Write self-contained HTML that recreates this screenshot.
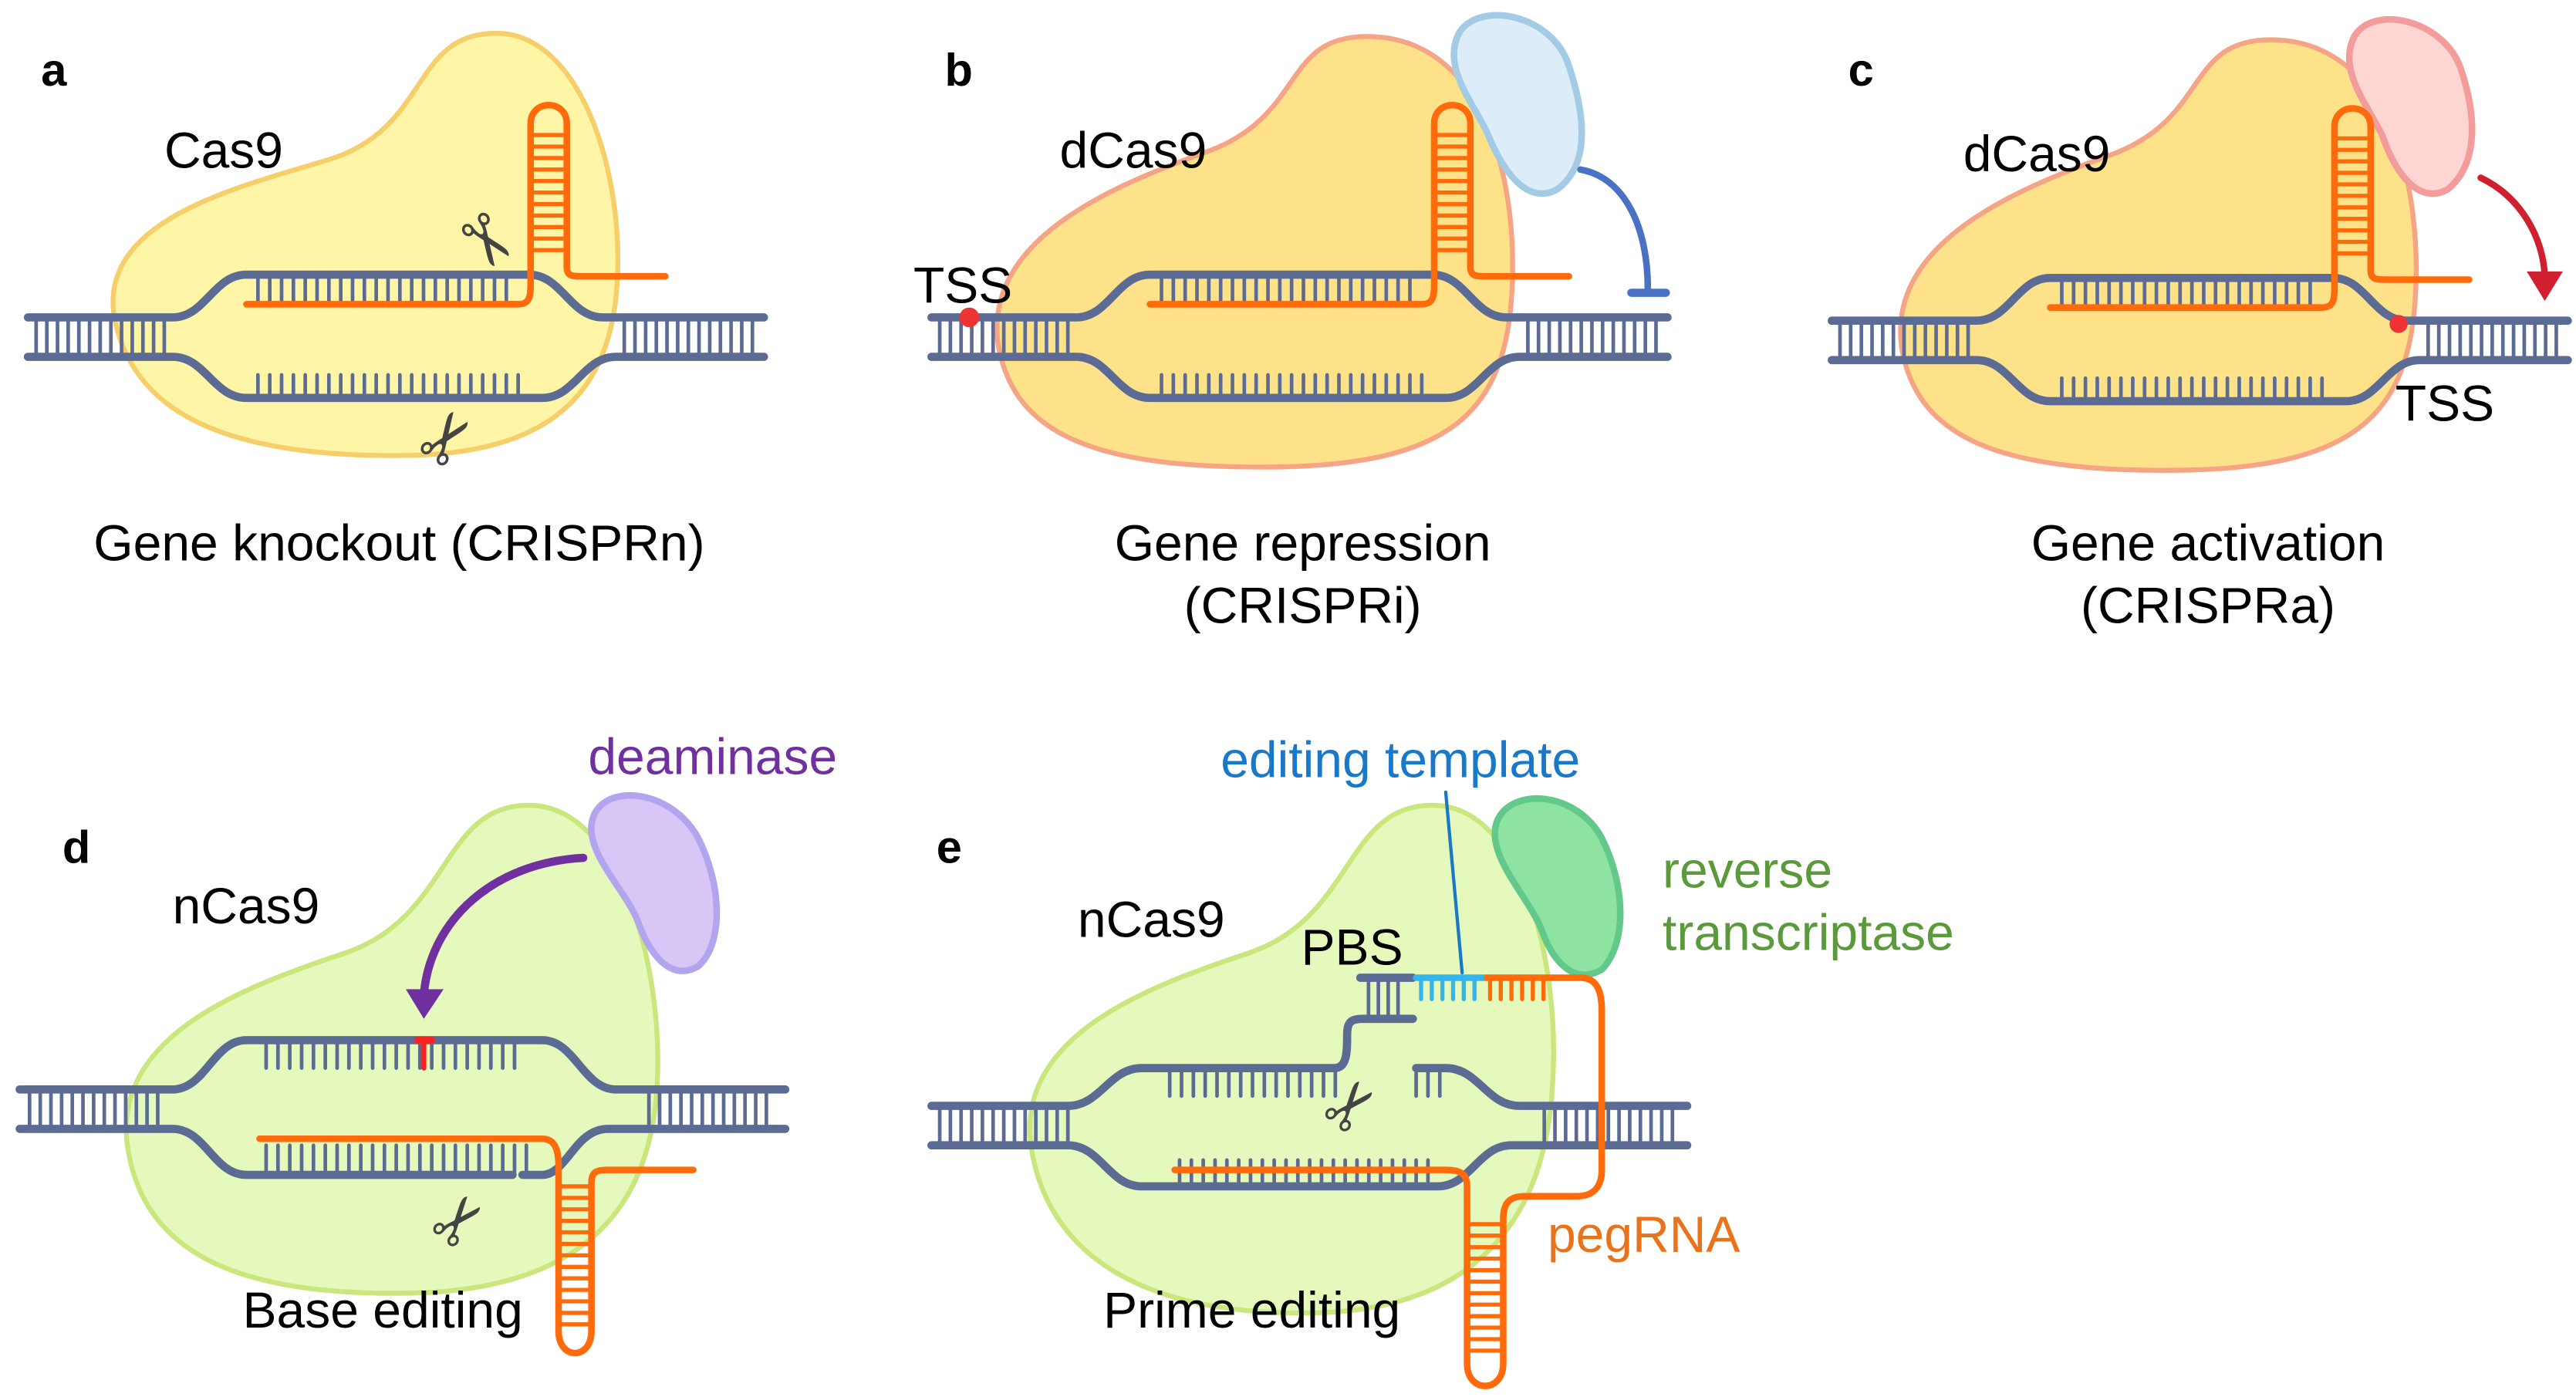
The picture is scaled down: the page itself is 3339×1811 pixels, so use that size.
<!DOCTYPE html>
<html><head><meta charset="utf-8"><style>
html,body{margin:0;padding:0;background:#fff;}
svg{display:block;}
text{font-family:"Liberation Sans",sans-serif;}
</style></head><body>
<svg id="s" xmlns="http://www.w3.org/2000/svg" width="3339" height="1811" viewBox="0 0 1568 850">
<rect width="1568" height="850" fill="#fff"/>
<g id="g"></g>
<text x="25" y="52" font-size="28" font-weight="bold">a</text>
<text x="575" y="52" font-size="28" font-weight="bold">b</text>
<text x="1125" y="52" font-size="28" font-weight="bold">c</text>
<text x="38" y="525" font-size="28" font-weight="bold">d</text>
<text x="570" y="525" font-size="28" font-weight="bold">e</text>
<text x="100" y="102" font-size="31">Cas9</text>
<text x="645" y="102" font-size="31">dCas9</text>
<text x="1195" y="104" font-size="31">dCas9</text>
<text x="105" y="562" font-size="31">nCas9</text>
<text x="656" y="570" font-size="31">nCas9</text>
<text x="243" y="341" font-size="31" text-anchor="middle">Gene knockout (CRISPRn)</text>
<text x="793" y="341" font-size="31" text-anchor="middle">Gene repression</text>
<text x="793" y="379" font-size="31" text-anchor="middle">(CRISPRi)</text>
<text x="1344" y="341" font-size="31" text-anchor="middle">Gene activation</text>
<text x="1344" y="379" font-size="31" text-anchor="middle">(CRISPRa)</text>
<text x="233" y="808" font-size="31" text-anchor="middle">Base editing</text>
<text x="762" y="808" font-size="31" text-anchor="middle">Prime editing</text>
<text x="556" y="184" font-size="31">TSS</text>
<text x="1458" y="256" font-size="31">TSS</text>
<text x="358" y="471" font-size="31" fill="#7030a0">deaminase</text>
<text x="743" y="473" font-size="31" fill="#1a78c8">editing template</text>
<text x="1012" y="540" font-size="31" fill="#5a9a3a">reverse</text>
<text x="1012" y="578" font-size="31" fill="#5a9a3a">transcriptase</text>
<text x="792" y="587" font-size="31">PBS</text>
<text x="942" y="762" font-size="31" fill="#e8731a">pegRNA</text>
</svg>
<script>
var g=document.getElementById('g'),NS='http://www.w3.org/2000/svg';
function el(t,a){var e=document.createElementNS(NS,t);for(var k in a)e.setAttribute(k,a[k]);g.appendChild(e);return e;}
function P(d,s,w,f){return el('path',{d:d,stroke:s||'none','stroke-width':w||0,fill:f||'none','stroke-linecap':'round','stroke-linejoin':'round'});}
function R(x1,x2,st,y1,y2,c,w){for(var x=x1;x<=x2+0.01;x+=st)P('M'+x+','+y1+'V'+y2,c,w||2.2);}
function H(y1,y2,st,x1,x2,c,w){for(var y=y1;y<=y2+0.01;y+=st)P('M'+x1+','+y+'H'+x2,c,w||2.5);}
function T(x,y,s,c,fs,rot){var t=el('text',{x:x,y:y,'font-size':fs||26,fill:c,'text-anchor':'middle',transform:'rotate('+(rot||0)+' '+x+' '+y+')'});t.setAttribute('style','font-family:"DejaVu Sans",sans-serif');t.textContent=s;}
var B='#5b6b94',O='#ff6a0a';
P('M70,195 C58,135 140,115 200,97 C262,78 250,20 302,20 C352,20 378,100 376,165 C374,235 340,275 250,277 C135,279 82,250 70,195Z','#f7cf6a',3,'#fff5a6');
P('M608,212 C596,145 680,112 735,92 C795,70 780,22 832,22 C905,22 925,112 920,182 C915,252 880,282 780,284 C662,286 618,262 608,212Z','#f5a585',3,'#fde28a');
P('M1158,214 C1146,147 1230,114 1285,94 C1345,72 1330,24 1382,24 C1455,24 1475,114 1470,184 C1465,254 1430,284 1330,286 C1212,288 1168,264 1158,214Z','#f5a585',3,'#fde28a');
P('M888,20 C900,0 945,8 955,40 C965,70 968,100 948,115 C930,125 915,105 905,80 C895,60 878,40 888,20Z','#a3cbe6',4,'#dcecf8');
P('M1433,22 C1445,2 1488,12 1498,42 C1508,72 1508,100 1490,115 C1472,125 1458,105 1450,82 C1440,62 1423,42 1433,22Z','#f39c9c',4,'#fdd6d4');
P('M962,103 C990,108 1003,140 1003,175','#4a72c4',4);P('M993,178H1014','#4a72c4',5);
P('M1510,108 C1535,120 1548,145 1549,168','#d0202f',4);P('M1538,165 L1560,165 L1549,183Z','none',0,'#d0202f');
P('M78,700 C66,630 150,600 210,580 C275,558 268,490 322,490 C378,490 404,590 400,660 C396,740 350,785 250,787 C140,789 88,760 78,700Z','#c9e77c',3,'#e6f9bc');
P('M628,700 C616,630 700,600 760,580 C825,558 818,490 872,490 C928,490 950,590 945,660 C941,740 900,797 800,799 C690,801 638,760 628,700Z','#c9e77c',3,'#e6f9bc');
P('M362,495 C372,476 410,482 425,510 C440,540 440,575 425,588 C408,598 395,580 388,560 C380,540 352,515 362,495Z','#b3a4ee',4,'#d8c7f6');
P('M912,498 C922,479 960,482 975,510 C990,540 990,575 975,590 C958,600 945,585 938,565 C930,545 902,518 912,498Z','#62c98a',4,'#8fe3a2');
P('M355,522 C300,525 262,560 258,605','#7030a0',5);P('M247,602 L270,602 L258,620Z','none',0,'#7030a0');
function dnaABC(dx,dy){
 var y1=193+dy,y2=217+dy;
 R(22+dx,102+dx,6.5,y1,y2,B);R(380+dx,462+dx,6.5,y1,y2,B);
 R(157+dx,315+dx,7.2,167+dy,185+dy,B);R(157+dx,318+dx,7.2,228+dy,242+dy,B);
 P('M'+(17+dx)+','+y1+'H'+(105+dx)+'C'+(125+dx)+','+y1+' '+(130+dx)+','+(167+dy)+' '+(150+dx)+','+(167+dy)+'H'+(322+dx)+'C'+(342+dx)+','+(167+dy)+' '+(347+dx)+','+y1+' '+(367+dx)+','+y1+'H'+(465+dx),B,5);
 P('M'+(17+dx)+','+y2+'H'+(105+dx)+'C'+(125+dx)+','+y2+' '+(130+dx)+','+(242+dy)+' '+(150+dx)+','+(242+dy)+'H'+(330+dx)+'C'+(350+dx)+','+(242+dy)+' '+(355+dx)+','+y2+' '+(375+dx)+','+y2+'H'+(465+dx),B,5);
 H(82+dy,156+dy,7,323+dx,345+dx,O,2.5);
 P('M'+(150+dx)+','+(185+dy)+'H'+(315+dx)+'C'+(323+dx)+','+(185+dy)+' '+(323+dx)+','+(180+dy)+' '+(323+dx)+','+(170+dy)+'V'+(75+dy)+'C'+(323+dx)+','+(60+dy)+' '+(345+dx)+','+(60+dy)+' '+(345+dx)+','+(75+dy)+'V'+(162+dy)+'C'+(345+dx)+','+(168+dy)+' '+(348+dx)+','+(168+dy)+' '+(355+dx)+','+(168+dy)+'H'+(405+dx),O,4);
}
dnaABC(0,0);dnaABC(550,0);dnaABC(1098,2);
el('circle',{cx:590,cy:193,r:6,fill:'#ee3333'});
el('circle',{cx:1460,cy:197,r:5.5,fill:'#ee3333'});
T(284,155,'\u2702','#444',42,55);T(284,275,'\u2702','#444',42,-55);
R(18,100,6.5,663,687,B);R(395,470,6.5,663,687,B);
R(162,320,7.2,633,650,B);R(162,322,7.2,697,715,B);
P('M12,663H105C125,663 130,633 150,633H330C350,633 355,663 375,663H478',B,5);
P('M12,687H105C125,687 130,715 150,715H312M318,715H330C345,715 350,687 370,687H478',B,5);
P('M258,632V650','#ff2020',3);P('M254,633H263','#ff2020',4);
H(722,810,7,340,360,O,2.5);
P('M158,693H330C338,693 340,700 340,710V810C340,828 360,828 360,810V720C360,713 363,712 370,712H422',O,4);
T(290,752,'\u2702','#444',40,-50);
R(572,650,6.5,673,697,B);R(940,1020,6.5,673,697,B);
R(712,815,7.2,650,667,B);R(862,880,7.2,650,667,B);R(718,870,7.2,706,720,B);
P('M567,673H650C670,673 675,650 695,650H812C820,650 820,640 820,630C820,622 822,620 830,620H860',B,5);
P('M828,595H860',B,5);R(833,856,6,595,618,B);
P('M862,650H880C900,650 905,673 925,673H1027',B,5);
P('M567,697H650C670,697 675,722 695,722H875C895,722 900,697 920,697H1027',B,5);
P('M862,595H905','#33b5ee',4);R(865,900,6.5,595,608,'#33b5ee',2.5);
R(907,940,6.5,595,608,O,2.5);
H(745,828,7,893,915,O,2.5);
P('M905,595H962C972,595 975,603 975,615V712C975,722 970,728 960,728H928C918,728 915,733 915,742V830C915,848 893,848 893,830V722C893,715 890,712 880,712H715',O,4);
P('M880,482L890,592','#1a78c8',2);
T(833,682,'\u2702','#444',40,-50);
</script>
</body></html>
